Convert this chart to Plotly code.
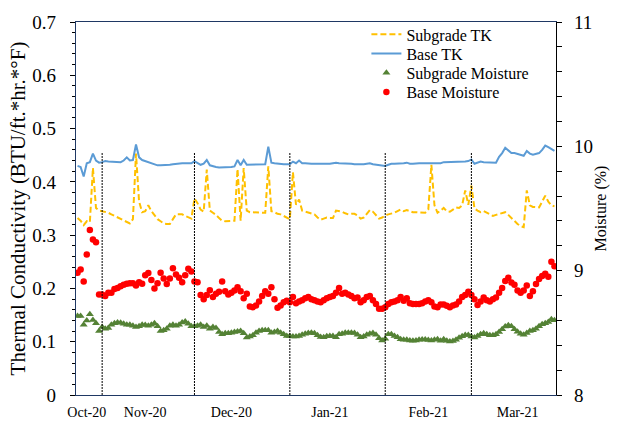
import pandas as pd
import plotly.graph_objects as go

# Daily readings, 24 Oct 2020 - 28 Mar 2021
dates = pd.date_range("2020-10-24", "2021-03-28", freq="D")

subgrade_tk = [
    0.332, 0.327, 0.319, 0.326, 0.324, 0.426, 0.351, 0.346,
    0.345, 0.344, 0.342, 0.339, 0.336, 0.334, 0.331, 0.327, 0.324, 0.322,
    0.330, 0.453, 0.363, 0.343, 0.345, 0.356, 0.345, 0.338, 0.330, 0.326,
    0.322, 0.321, 0.321, 0.330, 0.339, 0.339, 0.339, 0.336, 0.333, 0.331,
    0.369, 0.360, 0.348, 0.344, 0.423, 0.346, 0.342, 0.338, 0.332, 0.327,
    0.326, 0.326, 0.326, 0.327, 0.424, 0.327, 0.426, 0.346, 0.343, 0.343,
    0.343, 0.343, 0.342, 0.342, 0.429, 0.345, 0.343, 0.340, 0.339, 0.336,
    0.334, 0.330, 0.418, 0.357, 0.367, 0.346, 0.344, 0.342, 0.341, 0.339,
    0.333, 0.329, 0.331, 0.333, 0.332, 0.332, 0.346, 0.345, 0.344, 0.341,
    0.339, 0.340, 0.340, 0.337, 0.331, 0.333, 0.339, 0.347, 0.344, 0.338,
    0.331, 0.333, 0.337, 0.339, 0.340, 0.342, 0.345, 0.348, 0.345, 0.347,
    0.345, 0.343, 0.343, 0.343, 0.343, 0.342, 0.348, 0.432, 0.356, 0.342,
    0.346, 0.351, 0.345, 0.344, 0.348, 0.352, 0.351, 0.356, 0.384, 0.357,
    0.393, 0.350, 0.346, 0.343, 0.345, 0.342, 0.339, 0.336, 0.338, 0.340,
    0.342, 0.343, 0.338, 0.332, 0.327, 0.321, 0.317, 0.315, 0.384, 0.356,
    0.353, 0.353, 0.352, 0.363, 0.374, 0.363, 0.356, 0.354,
]

base_tk = [
    0.430, 0.428, 0.410, 0.435, 0.437, 0.453, 0.440, 0.436,
    0.437, 0.439, 0.438, 0.438, 0.437, 0.437, 0.437, 0.440, 0.446, 0.440,
    0.441, 0.470, 0.446, 0.441, 0.439, 0.438, 0.436, 0.434, 0.431, 0.431,
    0.431, 0.431, 0.432, 0.433, 0.434, 0.434, 0.435, 0.435, 0.435, 0.435,
    0.439, 0.435, 0.432, 0.434, 0.441, 0.431, 0.429, 0.428, 0.427, 0.427,
    0.427, 0.427, 0.428, 0.429, 0.441, 0.431, 0.441, 0.432, 0.432, 0.432,
    0.432, 0.432, 0.432, 0.433, 0.466, 0.436, 0.435, 0.434, 0.433, 0.433,
    0.433, 0.433, 0.438, 0.435, 0.440, 0.435, 0.435, 0.434, 0.434, 0.434,
    0.434, 0.434, 0.434, 0.433, 0.434, 0.435, 0.436, 0.435, 0.435, 0.434,
    0.434, 0.434, 0.433, 0.433, 0.432, 0.433, 0.434, 0.435, 0.433, 0.432,
    0.431, 0.431, 0.430, 0.432, 0.434, 0.434, 0.434, 0.435, 0.435, 0.436,
    0.434, 0.434, 0.435, 0.435, 0.435, 0.435, 0.436, 0.436, 0.435, 0.435,
    0.435, 0.437, 0.437, 0.437, 0.437, 0.437, 0.437, 0.438, 0.438, 0.439,
    0.442, 0.434, 0.436, 0.438, 0.437, 0.437, 0.437, 0.437, 0.436, 0.447,
    0.454, 0.464, 0.458, 0.454, 0.454, 0.452, 0.450, 0.449, 0.458, 0.453,
    0.451, 0.453, 0.454, 0.460, 0.468, 0.465, 0.462, 0.458,
]

subgrade_moisture = [
    8.635, 8.635, 8.565, 8.599, 8.650, 8.604, 8.578, 8.514,
    8.547, 8.532, 8.539, 8.565, 8.578, 8.583, 8.581, 8.573, 8.565, 8.565,
    8.557, 8.547, 8.552, 8.565, 8.563, 8.557, 8.565, 8.578, 8.552, 8.514,
    8.521, 8.532, 8.557, 8.565, 8.557, 8.565, 8.583, 8.591, 8.573, 8.552,
    8.552, 8.557, 8.565, 8.547, 8.557, 8.532, 8.547, 8.539, 8.506, 8.488,
    8.496, 8.496, 8.501, 8.506, 8.511, 8.514, 8.496, 8.462, 8.470, 8.480,
    8.501, 8.514, 8.521, 8.521, 8.521, 8.501, 8.506, 8.514, 8.501, 8.488,
    8.475, 8.475, 8.470, 8.470, 8.475, 8.485, 8.493, 8.498, 8.501, 8.496,
    8.480, 8.467, 8.465, 8.473, 8.475, 8.475, 8.465, 8.488, 8.493, 8.501,
    8.501, 8.501, 8.498, 8.485, 8.465, 8.470, 8.485, 8.493, 8.498, 8.485,
    8.457, 8.439, 8.452, 8.488, 8.488, 8.475, 8.465, 8.449, 8.444, 8.444,
    8.439, 8.437, 8.439, 8.444, 8.447, 8.447, 8.442, 8.439, 8.444, 8.449,
    8.437, 8.449, 8.437, 8.431, 8.434, 8.444, 8.460, 8.473, 8.483, 8.483,
    8.470, 8.462, 8.475, 8.488, 8.496, 8.488, 8.480, 8.480, 8.488, 8.506,
    8.529, 8.550, 8.560, 8.552, 8.529, 8.509, 8.493, 8.485, 8.498, 8.514,
    8.521, 8.532, 8.552, 8.570, 8.578, 8.588, 8.609, 8.601,
]

base_moisture = [
    8.984, 9.010, 8.912, 9.131, 9.328, 9.251, 9.228, 8.809,
    8.809, 8.796, 8.822, 8.822, 8.853, 8.861, 8.874, 8.886, 8.894, 8.899,
    8.899, 8.881, 8.907, 8.894, 8.963, 8.981, 8.925, 8.856, 8.899, 8.984,
    8.938, 8.892, 8.938, 9.020, 8.969, 8.943, 8.907, 8.963, 9.015, 8.994,
    8.912, 8.907, 8.804, 8.771, 8.804, 8.843, 8.789, 8.814, 8.830, 8.912,
    8.835, 8.809, 8.822, 8.840, 8.866, 8.835, 8.778, 8.814, 8.712, 8.706,
    8.719, 8.753, 8.796, 8.835, 8.814, 8.866, 8.771, 8.701, 8.719, 8.745,
    8.758, 8.745, 8.789, 8.737, 8.753, 8.763, 8.778, 8.789, 8.771, 8.763,
    8.753, 8.745, 8.763, 8.778, 8.789, 8.796, 8.822, 8.861, 8.814, 8.822,
    8.809, 8.796, 8.778, 8.784, 8.745, 8.763, 8.789, 8.796, 8.763, 8.732,
    8.694, 8.694, 8.706, 8.732, 8.745, 8.753, 8.763, 8.789, 8.758, 8.778,
    8.737, 8.732, 8.732, 8.732, 8.737, 8.753, 8.763, 8.745, 8.712, 8.706,
    8.727, 8.727, 8.717, 8.706, 8.719, 8.727, 8.753, 8.789, 8.804, 8.830,
    8.804, 8.771, 8.724, 8.753, 8.784, 8.763, 8.753, 8.771, 8.784, 8.822,
    8.861, 8.917, 8.943, 8.904, 8.886, 8.840, 8.822, 8.840, 8.881, 8.796,
    8.835, 8.892, 8.933, 8.958, 8.976, 8.951, 9.071, 9.035,
]

# Month-start reference lines
month_starts = ["2020-11-01", "2020-12-01", "2021-01-01", "2021-02-01", "2021-03-01"]
month_line_top = 0.455

# Month labels along the date axis
tick_dates = ["2020-10-27", "2020-11-15", "2020-12-13", "2021-01-14", "2021-02-15", "2021-03-16"]
tick_labels = ["Oct-20", "Nov-20", "Dec-20", "Jan-21", "Feb-21", "Mar-21"]

FONT = "Liberation Serif"
NAVY = "#1F3864"

fig = go.Figure()
fig.add_trace(go.Scatter(
    x=dates, y=subgrade_tk, name="Subgrade TK", mode="lines",
    line=dict(color="#FFC000", width=2, dash="6px,3px"),
    legend="legend",
))
fig.add_trace(go.Scatter(
    x=dates, y=base_tk, name="Base TK", mode="lines",
    line=dict(color="#5B9BD5", width=2),
    legend="legend2",
))
fig.add_trace(go.Scatter(
    x=dates, y=subgrade_moisture, name="Subgrade Moisture", mode="markers",
    marker=dict(symbol="triangle-up", size=7, color="#548235"),
    yaxis="y2", legend="legend3",
))
fig.add_trace(go.Scatter(
    x=dates, y=base_moisture, name="Base Moisture", mode="markers",
    marker=dict(symbol="circle", size=6.5, color="#FF0000"),
    yaxis="y2", legend="legend4",
))

for d in month_starts:
    fig.add_shape(
        type="line", xref="x", yref="y", x0=d, x1=d, y0=0, y1=month_line_top,
        line=dict(color="black", width=1, dash="2px,1px"),
    )

# One single-entry legend per series keeps the rows 20 px apart
legend_rows = [0.9666, 0.9152, 0.8638, 0.8123]
legend_style = dict(
    x=0.605, xanchor="left", yanchor="middle",
    font=dict(family=FONT, size=16, color="black"),
    bgcolor="rgba(0,0,0,0)", itemwidth=30,
)

fig.update_layout(
    width=618, height=432,
    margin=dict(l=76, r=54, t=16, b=27),
    paper_bgcolor="white", plot_bgcolor="white",
    font=dict(family=FONT, color="black", size=16),
    showlegend=True,
    legend=dict(y=legend_rows[0], **legend_style),
    legend2=dict(y=legend_rows[1], **legend_style),
    legend3=dict(y=legend_rows[2], **legend_style),
    legend4=dict(y=legend_rows[3], **legend_style),
    xaxis=dict(
        type="date",
        range=["2020-10-23 12:00", "2021-03-28 12:00"],
        tickmode="array", tickvals=tick_dates, ticktext=tick_labels,
        tickfont=dict(size=14), ticks="", ticklabelstandoff=4,
        showline=True, linecolor=NAVY, linewidth=1.3, mirror=True,
        showgrid=False, zeroline=False,
    ),
    yaxis=dict(
        range=[0, 0.7], tick0=0, dtick=0.1,
        ticks="outside", ticklen=5, tickcolor="black", tickwidth=1,
        minor=dict(dtick=0.02, ticks="outside", ticklen=3, tickcolor="black"),
        ticklabelstandoff=10,
        tickfont=dict(size=19),
        showline=True, linecolor=NAVY, linewidth=1.3,
        showgrid=False, zeroline=False,
        title=dict(text="Thermal Conductivity (BTU/ft.*hr.*°F)", font=dict(size=21), standoff=0),
    ),
    yaxis2=dict(
        overlaying="y", side="right",
        range=[8, 11], tick0=8, dtick=1,
        ticks="outside", ticklen=5, tickcolor="black", tickwidth=1,
        minor=dict(dtick=0.2, ticks="outside", ticklen=5, tickcolor="black"),
        ticklabelstandoff=8,
        tickfont=dict(size=19),
        showline=True, linecolor="black", linewidth=1.3,
        showgrid=False, zeroline=False,
        title=dict(text="Moisture (%)", font=dict(size=16), standoff=2),
    ),
)

fig.write_html("out.html")
